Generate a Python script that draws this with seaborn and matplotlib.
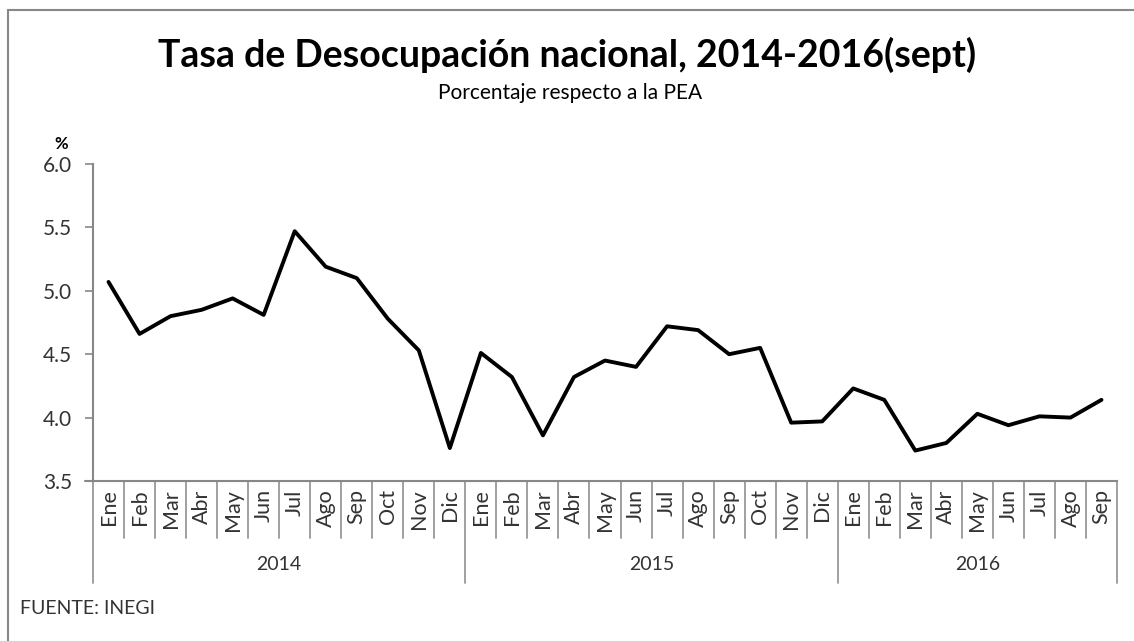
import numpy as np
import pandas as pd
import matplotlib
matplotlib.use("Agg")
import matplotlib.pyplot as plt
import matplotlib.transforms as mtrans
from matplotlib.patches import Rectangle
import seaborn as sns

sns.set_theme(style="white")
plt.rcParams['font.family'] = ['Lato', 'DejaVu Sans']

years = ["2014", "2015", "2016"]
months = ["Ene", "Feb", "Mar", "Abr", "May", "Jun", "Jul", "Ago", "Sep", "Oct", "Nov", "Dic"]
rate_2014 = [5.07, 4.66, 4.80, 4.85, 4.94, 4.81, 5.47, 5.19, 5.10, 4.78, 4.53, 3.76]
rate_2015 = [4.51, 4.32, 3.86, 4.32, 4.45, 4.40, 4.72, 4.69, 4.50, 4.55, 3.96, 3.97]
rate_2016 = [4.23, 4.14, 3.74, 3.80, 4.03, 3.94, 4.01, 4.00, 4.14]
y_ticks = [3.5, 4.0, 4.5, 5.0, 5.5, 6.0]

series = [rate_2014, rate_2015, rate_2016]
rows = []
for yr, vals in zip(years, series):
    for m, v in zip(months, vals):
        rows.append({"year": yr, "month": m, "rate": v})
df = pd.DataFrame(rows)
df["idx"] = np.arange(len(df))

W, H = 1134, 641
fig = plt.figure(figsize=(W / 100, H / 100), dpi=100)
ax = fig.add_axes([93 / W, 1 - 481 / H, (1117 - 93) / W, (481 - 164) / H])

sns.lineplot(data=df, x="idx", y="rate", ax=ax, color="black", linewidth=2.8)

n = len(df)
ax.set_xlim(-0.5, n - 0.5)
ax.set_ylim(3.5, 6.0)
ax.set_yticks(y_ticks)
ax.set_yticklabels([f"{t:.1f}" for t in y_ticks], fontsize=15, color="#333333")
ax.tick_params(axis="y", direction="out", length=6, width=1.2, color="#888888", pad=9, left=True)

# month labels at category centres
ax.set_xticks(df["idx"])
ax.set_xticklabels(df["month"], rotation=90, fontsize=15.5, color="#333333")
ax.tick_params(axis="x", length=0, pad=6)
ax.set_xlabel("")
ax.set_ylabel("")

for s in ["top", "right"]:
    ax.spines[s].set_visible(False)
ax.spines["left"].set_color("#888888")
ax.spines["left"].set_linewidth(1.5)
ax.spines["bottom"].set_color("#888888")
ax.spines["bottom"].set_linewidth(1.5)

# category separators
trans = mtrans.blended_transform_factory(ax.transData, fig.transFigure)
month_bottom = 1 - 538 / H
year_bottom = 1 - 583 / H
axis_y = 1 - 481 / H
for k in range(n + 1):
    x = k - 0.5
    is_year = (k % 12 == 0) or (k == n)
    yb = year_bottom if is_year else month_bottom
    ax.plot([x, x], [axis_y, yb], transform=trans, color="#999999", lw=1.3, clip_on=False)
fig.lines.append(plt.Line2D([85 / W, 93 / W], [axis_y, axis_y], transform=fig.transFigure,
                            color="#888888", lw=1.5))

# year labels
for i, yr in enumerate(years):
    start = i * 12 - 0.5
    end = min((i + 1) * 12, n) - 0.5
    ax.text((start + end) / 2, 1 - 565 / H, yr, transform=trans, ha="center", va="center",
            fontsize=14, color="#333333")

# titles and annotations
fig.text(567 / W, 1 - 55 / H, "Tasa de Desocupación nacional, 2014-2016(sept)", ha="center",
         va="center", fontsize=27, fontweight="bold", color="black")
fig.text(570 / W, 1 - 93 / H, "Porcentaje respecto a la PEA", ha="center", va="center",
         fontsize=15, color="black")
fig.text(61 / W, 1 - 144 / H, "%", ha="center", va="center", fontsize=12, fontweight="bold",
         color="black")
fig.text(20 / W, 1 - 609 / H, "FUENTE: INEGI", ha="left", va="center", fontsize=14,
         color="#333333")

# outer frame (top and left visible)
fig.patches.append(Rectangle((8 / W, -0.05), 1.2, (1 - 10 / H) + 0.05, transform=fig.transFigure,
                             fill=False, edgecolor="#888888", lw=1.5))

fig.savefig("out.png", dpi=100)
